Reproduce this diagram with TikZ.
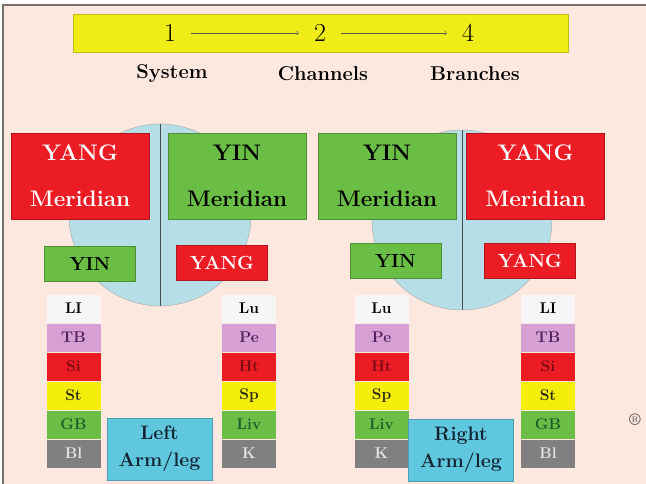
\documentclass[tikz,border=0pt]{standalone}
\usepackage{fontspec}
\usepackage{tikz}
\definecolor{peach}{RGB}{252,232,222}
\definecolor{framegray}{RGB}{120,112,108}
\definecolor{barylw}{RGB}{240,236,24}
\definecolor{yangred}{RGB}{236,28,36}
\definecolor{yingrn}{RGB}{106,190,70}
\definecolor{discblue}{RGB}{182,222,230}
\definecolor{limbcyan}{RGB}{96,200,222}
\definecolor{cellwht}{RGB}{246,246,246}
\definecolor{cellpnk}{RGB}{214,160,212}
\definecolor{cellylw}{RGB}{245,238,10}
\definecolor{cellgry}{RGB}{128,128,128}
\definecolor{inkpurple}{RGB}{80,30,100}
\definecolor{inkred}{RGB}{120,10,20}
\definecolor{inkgreen}{RGB}{20,95,40}
\definecolor{inkdark}{RGB}{40,40,20}
\definecolor{inknavy}{RGB}{20,35,50}
\tikzstyle{meridian}=[draw, inner sep=0, minimum width=138pt, minimum height=86pt, align=center,
                      font=\fontsize{22.5}{46}\selectfont\bfseries]
\tikzstyle{yangmer}=[meridian, fill=yangred, draw=yangred!75!black, text=white]
\tikzstyle{yinmer}=[meridian, fill=yingrn, draw=yingrn!75!black, text=black]
\tikzstyle{polarity}=[draw, inner sep=0, minimum width=91pt, minimum height=35pt,
                      font=\fontsize{19}{21}\selectfont\bfseries]
\tikzstyle{yangtag}=[polarity, fill=yangred, draw=yangred!75!black, text=white]
\tikzstyle{yintag}=[polarity, fill=yingrn, draw=yingrn!75!black, text=black]
\tikzstyle{disc}=[circle, draw=gray!70, fill=discblue, inner sep=0]
\tikzstyle{cell}=[inner sep=0, minimum width=54pt, minimum height=28pt,
                  font=\fontsize{15.5}{17}\selectfont\bfseries]
\tikzstyle{limb}=[draw=limbcyan!80!black, fill=limbcyan, inner sep=0, minimum width=105pt,
                  minimum height=62pt, align=center, text=inknavy,
                  font=\fontsize{19.5}{27}\selectfont\bfseries]
\tikzstyle{step num}=[inner xsep=15pt, inner ysep=0, font=\fontsize{26}{28}\selectfont]
\tikzstyle{step label}=[inner sep=0, font=\fontsize{20}{22}\selectfont\bfseries]

\begin{document}
\begin{tikzpicture}[x=1pt, y=-1pt]
    \useasboundingbox (0,0) rectangle (646,484);
    \fill[white] (0,0) rectangle (646,484);
    \fill[peach] (3,5) rectangle (646,484);
    \draw[framegray, line width=1.2pt] (3,484) -- (3,5) -- (646,5);

    % order of the branching
    \node[fill=barylw, draw=barylw!80!black, minimum width=495pt, minimum height=38pt] (bar) at (320.5,33) {};
    \node[step num] (n1) at (170,33) {1};
    \node[step num] (n2) at (320,33) {2};
    \node[step num] (n4) at (468,33) {4};
    \draw[->, gray!70!black, line width=0.6pt] (n1) -- (n2);
    \draw[->, gray!70!black, line width=0.6pt] (n2) -- (n4);
    \node[step label] (system) at (172,74) {System};
    \node[step label] (channels) at (323,74) {Channels};
    \node[step label] (branches) at (475,74) {Branches};

    % left side
    \node[disc, minimum size=182pt] (lDisc) at (160,215) {};
    \draw[gray!60!black, line width=0.8pt] (lDisc.north) -- (lDisc.south);
    \node[yangmer] (lYangMer) at (80,176) {YANG\\Meridian};
    \node[yinmer] (lYinMer) at (237,176) {YIN\\Meridian};
    \node[yintag] (lYin) at (90,264) {YIN};
    \node[yangtag] (lYang) at (222,262.5) {YANG};

    \node[cell, fill=cellwht, text=black] (lLI) at (73.5,308.5) {LI};
    \node[cell, fill=cellpnk, text=inkpurple] (lTB) at (73.5,337.5) {TB};
    \node[cell, fill=yangred, text=inkred] (lSi) at (73.5,366.5) {Si};
    \node[cell, fill=cellylw, text=inkdark] (lSt) at (73.5,395.5) {St};
    \node[cell, fill=yingrn, text=inkgreen] (lGB) at (73.5,424.5) {GB};
    \node[cell, fill=cellgry, text=gray!20] (lBl) at (73.5,453.5) {Bl};

    \node[cell, fill=cellwht, text=black] (lLu) at (249,308.5) {Lu};
    \node[cell, fill=cellpnk, text=inkpurple] (lPe) at (249,337.5) {Pe};
    \node[cell, fill=yangred, text=inkred] (lHt) at (249,366.5) {Ht};
    \node[cell, fill=cellylw, text=inkdark] (lSp) at (249,395.5) {Sp};
    \node[cell, fill=yingrn, text=inkgreen] (lLiv) at (249,424.5) {Liv};
    \node[cell, fill=cellgry, text=gray!20] (lK) at (249,453.5) {K};

    \node[limb] (lLimb) at (159.5,449) {Left\\Arm/leg};

    % right side
    \node[disc, minimum size=180pt] (rDisc) at (462,220) {};
    \draw[gray!60!black, line width=0.8pt] (rDisc.north) -- (rDisc.south);
    \node[yinmer] (rYinMer) at (387,176) {YIN\\Meridian};
    \node[yangmer] (rYangMer) at (535.5,176) {YANG\\Meridian};
    \node[yintag] (rYin) at (395.5,260.5) {YIN};
    \node[yangtag] (rYang) at (530,260.5) {YANG};

    \node[cell, fill=cellwht, text=black] (rLu) at (381.5,308.5) {Lu};
    \node[cell, fill=cellpnk, text=inkpurple] (rPe) at (381.5,337.5) {Pe};
    \node[cell, fill=yangred, text=inkred] (rHt) at (381.5,366.5) {Ht};
    \node[cell, fill=cellylw, text=inkdark] (rSp) at (381.5,395.5) {Sp};
    \node[cell, fill=yingrn, text=inkgreen] (rLiv) at (381.5,424.5) {Liv};
    \node[cell, fill=cellgry, text=gray!20] (rK) at (381.5,453.5) {K};

    \node[cell, fill=cellwht, text=black] (rLI) at (548,308.5) {LI};
    \node[cell, fill=cellpnk, text=inkpurple] (rTB) at (548,337.5) {TB};
    \node[cell, fill=yangred, text=inkred] (rSi) at (548,366.5) {Si};
    \node[cell, fill=cellylw, text=inkdark] (rSt) at (548,395.5) {St};
    \node[cell, fill=yingrn, text=inkgreen] (rGB) at (548,424.5) {GB};
    \node[cell, fill=cellgry, text=gray!20] (rBl) at (548,453.5) {Bl};

    \node[limb] (rLimb) at (461,450) {Right\\Arm/leg};

    \node[text=gray!80!black, font=\fontsize{17}{19}\selectfont\bfseries] (reg) at (635,420) {\textregistered};
\end{tikzpicture}
\end{document}
